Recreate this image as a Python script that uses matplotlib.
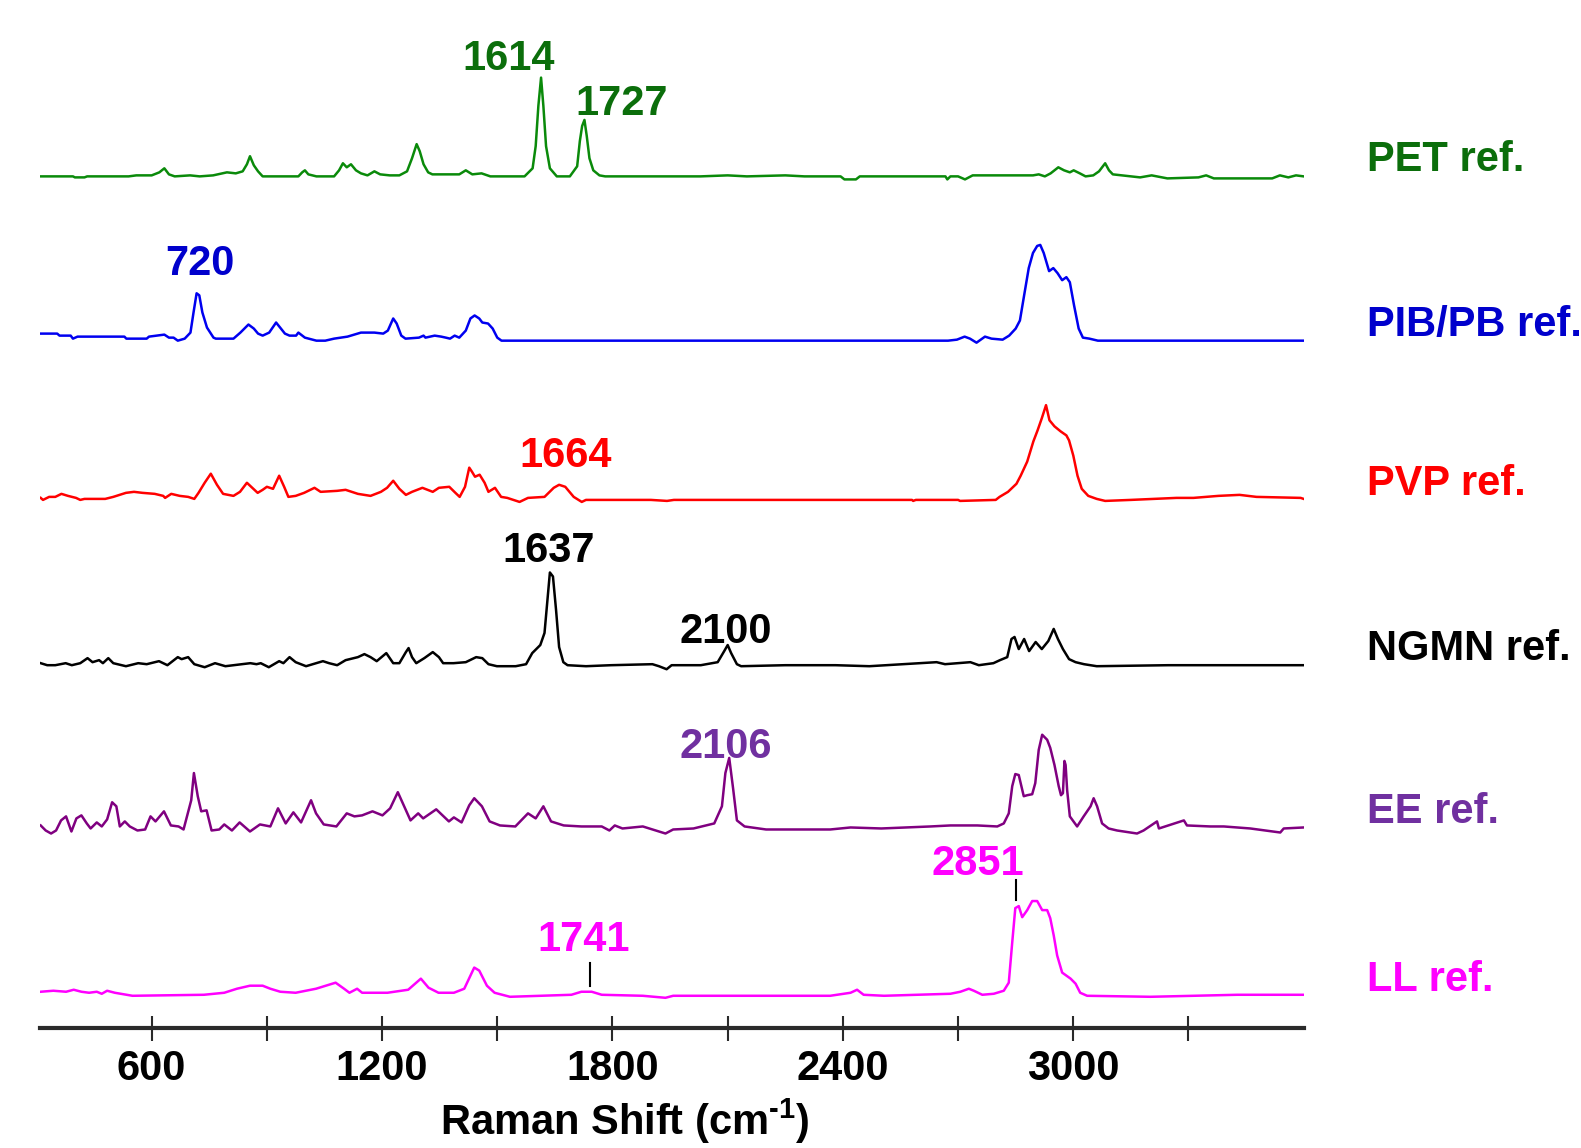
import matplotlib
matplotlib.use("Agg")
import matplotlib.pyplot as plt

plt.rcParams['font.family'] = ['Liberation Sans', 'DejaVu Sans']
plt.rcParams['font.weight'] = 'bold'
plt.rcParams['mathtext.fontset'] = 'custom'
plt.rcParams['mathtext.rm'] = 'Liberation Sans:bold'
plt.rcParams['mathtext.bf'] = 'Liberation Sans:bold'
plt.rcParams['mathtext.default'] = 'rm'

# spectra: Raman shift (cm-1) and relative intensity
pet_x = [311, 395, 400, 425, 432, 540, 560, 600, 620, 633, 645, 660, 700, 725, 760, 796, 819, 837, 848, 856,
         866, 877, 889, 982, 992, 999, 1008, 1029, 1075, 1088, 1098, 1108, 1119, 1132, 1145, 1162, 1180, 1195,
         1220, 1245, 1265, 1278, 1290, 1298, 1308, 1320, 1331, 1366, 1401, 1418, 1435, 1459, 1482, 1571, 1592,
         1600, 1607, 1614, 1620, 1627, 1637, 1655, 1689, 1708, 1715, 1721, 1727, 1733, 1740, 1750, 1766, 1781,
         2029, 2100, 2150, 2250, 2300, 2394, 2404, 2434, 2444, 2667, 2672, 2680, 2700, 2718, 2738, 2895, 2910,
         2926, 2941, 2961, 2976, 2991, 3001, 3017, 3032, 3052, 3067, 3083, 3093, 3103, 3174, 3204, 3245, 3326,
         3346, 3366, 3518, 3538, 3560, 3580, 3600]
pet_y = [0, 0, -1, -1, 0, 0, 1, 1, 4, 8, 2, 0, 1, 0, 1, 4, 3, 5, 12, 20,
         11, 5, 0, 0, 4, 6, 2, 0, 0, 6, 13, 9, 12, 6, 3, 1, 5, 2,
         1, 1, 5, 18, 32, 25, 12, 4, 2, 2, 2, 6, 2, 3, 0, 0, 8,
         30, 70, 98, 70, 30, 8, 0, 0, 10, 35, 50, 56, 40, 18, 6, 1, 0,
         0, 1, 0, 1, 0, 0, -3, -3, 0, 0, -3, 0, 0, -3, 1, 1, 2,
         0, 3, 9, 6, 4, 6, 3, 0, 1, 5, 13, 6, 2, -1, 1, -2, -1,
         1, -2, -2, 1, -1, 1, 0]

pib_x = [310, 354, 360, 389, 395, 407, 529, 534, 587, 593, 633, 645, 657, 668, 686, 701, 709, 717, 724, 732,
         744, 761, 767, 813, 831, 852, 866, 877, 889, 906, 924, 947, 959, 976, 982, 999, 1029, 1052, 1075, 1110,
         1145, 1180, 1203, 1215, 1229, 1238, 1250, 1261, 1296, 1308, 1313, 1337, 1354, 1366, 1377, 1389, 1401,
         1418, 1430, 1441, 1453, 1461, 1476, 1488, 1500, 1511, 2674, 2697, 2717, 2731, 2748, 2770, 2787, 2816,
         2833, 2850, 2861, 2872, 2884, 2895, 2906, 2914, 2923, 2937, 2948, 2959, 2971, 2982, 2991, 3002, 3014,
         3025, 3042, 3064, 3600]
pib_y = [7, 7, 5, 5, 2, 4, 4, 2, 2, 4, 6, 3, 3, 0, 2, 8, 28, 47, 45, 28,
         13, 3, 2, 2, 8, 16, 12, 7, 5, 8, 18, 7, 5, 5, 8, 3, 0, 0, 2, 4,
         8, 8, 7, 10, 22, 17, 5, 2, 3, 5, 3, 5, 4, 3, 2, 5, 3,
         10, 22, 25, 22, 18, 17, 12, 3, 0, 0, 1, 4, 2, -2, 4, 2, 1,
         5, 12, 20, 45, 72, 87, 94, 95, 87, 69, 72, 67, 60, 63, 58, 35, 12,
         3, 2, 0, 0]

pvp_x = [311, 317, 333, 349, 365, 382, 403, 414, 425, 479, 500, 533, 554, 576, 608, 630, 635, 651, 673, 695,
         711, 722, 738, 754, 770, 786, 813, 830, 848, 862, 876, 889, 900, 916, 932, 945, 956, 975, 997, 1024,
         1040, 1083, 1105, 1137, 1170, 1197, 1213, 1229, 1245, 1262, 1278, 1305, 1332, 1348, 1375, 1391, 1402,
         1416, 1427, 1434, 1442, 1454, 1467, 1477, 1494, 1510, 1526, 1558, 1580, 1623, 1647, 1661, 1677, 1699,
         1720, 1731, 1900, 1942, 1960, 2580, 2583, 2590, 2700, 2705, 2798, 2808, 2830, 2852, 2863, 2880, 2896,
         2907, 2918, 2929, 2938, 2951, 2967, 2982, 2989, 3000, 3011, 3022, 3039, 3061, 3083, 3150, 3269, 3313,
         3378, 3433, 3477, 3592, 3600]
pvp_y = [2, 0, 3, 3, 6, 4, 2, 0, 1, 1, 3, 7, 8, 7, 6, 4, 2, 6, 4, 3,
         1, 7, 17, 26, 15, 6, 4, 8, 17, 12, 7, 10, 13, 11, 24, 13, 3, 4, 7, 12,
         8, 9, 10, 6, 4, 8, 12, 19, 11, 5, 8, 12, 8, 12, 13, 7, 3,
         13, 32, 28, 23, 25, 17, 8, 12, 3, 2, -2, 2, 3, 12, 15, 13, 3,
         -2, 0, 0, -1, 0, 0, -1, 0, 0, -1, 0, 3, 8, 16, 24, 38, 58,
         69, 81, 94, 79, 73, 68, 64, 59, 44, 24, 11, 4, 1, -1, 0, 2, 2,
         4, 5, 3, 2, 1]

ngmn_x = [311, 328, 349, 376, 392, 414, 433, 446, 463, 473, 487, 500, 533, 565, 587, 619, 641, 668, 678, 695,
          711, 738, 765, 792, 835, 857, 873, 884, 905, 932, 943, 959, 975, 1002, 1046, 1062, 1083, 1105, 1137,
          1154, 1170, 1186, 1211, 1229, 1245, 1262, 1269, 1278, 1289, 1310, 1332, 1348, 1359, 1386, 1418, 1445,
          1461, 1477, 1499, 1548, 1575, 1591, 1612, 1623, 1630, 1637, 1645, 1653, 1661, 1672, 1683, 1731, 1796,
          1904, 1921, 1941, 1954, 2030, 2074, 2091, 2100, 2109, 2124, 2135, 2250, 2381, 2469, 2644, 2666, 2732,
          2754, 2792, 2809, 2828, 2839, 2847, 2858, 2872, 2885, 2902, 2918, 2935, 2949, 2960, 2973, 2989, 3006,
          3028, 3061, 3247, 3455, 3600]
ngmn_y = [2, 0, 0, 2, 0, 2, 7, 3, 5, 2, 7, 2, -1, 2, 1, 4, 0, 8, 6, 8,
          1, -2, 2, -1, 1, 2, 1, 2, -2, 4, 2, 8, 3, -1, 4, 2, 0, 5, 8,
          11, 8, 4, 12, 2, 2, 13, 17, 8, 2, 7, 13, 8, 2, 2, 3, 8,
          7, 1, -1, -1, 1, 12, 20, 32, 62, 92, 88, 55, 18, 3, 0, -1, 0,
          1, -1, -4, 0, 0, 3, 14, 20, 12, 1, -1, 0, 0, -1, 3, 1, 3,
          0, 2, 5, 8, 26, 28, 16, 26, 14, 23, 16, 24, 36, 26, 16, 6, 3,
          1, -1, 0, 0, 0]

ee_x = [311, 324, 338, 351, 364, 377, 391, 404, 417, 431, 441, 457, 470, 484, 497, 508, 517, 530, 543, 563,
        583, 597, 610, 632, 650, 670, 683, 703, 710, 720, 729, 743, 756, 776, 789, 809, 829, 856, 882, 909,
        929, 949, 969, 989, 1015, 1028, 1048, 1081, 1108, 1128, 1148, 1175, 1201, 1221, 1241, 1274, 1294, 1307,
        1341, 1374, 1387, 1407, 1427, 1440, 1460, 1480, 1507, 1547, 1580, 1600, 1620, 1640, 1673, 1719, 1772,
        1792, 1806, 1826, 1879, 1938, 1958, 2011, 2065, 2085, 2094, 2104, 2114, 2124, 2144, 2200, 2367, 2420,
        2500, 2628, 2680, 2750, 2802, 2819, 2832, 2841, 2849, 2858, 2871, 2880, 2893, 2901, 2910, 2919, 2932,
        2940, 2951, 2962, 2968, 2973, 2977, 2980, 2984, 2991, 3010, 3027, 3045, 3053, 3062, 3075, 3092, 3114,
        3166, 3183, 3218, 3223, 3288, 3296, 3357, 3392, 3461, 3539, 3548, 3600]
ee_y = [3, -2, -5, -2, 8, 12, -3, 10, 13, 5, 0, 6, 2, 9, 26, 22, 2, 7, 2, -2,
        -1, 12, 7, 17, 3, 2, -1, 28, 55, 32, 17, 18, -2, -1, 4, -2, 6, -3, 4, 2,
        20, 5, 16, 6, 28, 15, 4, 2, 15, 12, 13, 17, 13, 20, 36, 8, 15, 10,
        19, 7, 11, 6, 23, 30, 22, 7, 3, 2, 15, 10, 22, 7, 3, 2, 2,
        -2, 3, 0, 2, -5, -1, 0, 5, 22, 55, 70, 40, 8, 2, -1, -1, 1,
        0, 2, 3, 3, 2, 5, 15, 42, 54, 53, 32, 33, 34, 45, 78, 93, 88,
        80, 63, 42, 33, 35, 67, 63, 38, 12, 2, 12, 22, 30, 22, 5, 0, -2,
        -5, -2, 7, 0, 8, 3, 2, 2, 0, -4, 0, 1]

ll_x = [311, 344, 377, 397, 417, 437, 457, 470, 484, 504, 550, 736, 789, 822, 856, 889, 909, 935, 975, 1028,
        1079, 1101, 1115, 1135, 1148, 1214, 1268, 1301, 1321, 1347, 1387, 1414, 1440, 1453, 1473, 1493, 1533,
        1613, 1693, 1719, 1746, 1772, 1879, 1938, 1958, 2367, 2420, 2437, 2454, 2507, 2593, 2680, 2706, 2728,
        2741, 2763, 2793, 2819, 2832, 2841, 2849, 2858, 2867, 2880, 2893, 2906, 2919, 2932, 2940, 2949, 2958,
        2971, 2993, 3006, 3018, 3036, 3201, 3427, 3600]
ll_y = [4, 5, 4, 6, 4, 3, 4, 2, 5, 3, 0, 1, 3, 7, 10, 10, 7, 4, 3, 7,
        13, 7, 3, 7, 3, 3, 6, 17, 8, 3, 3, 7, 28, 25, 10, 3, -1,
        0, 1, 4, 4, 1, 0, -2, 0, 0, 3, 6, 1, 0, 1, 2, 4, 7,
        5, 1, 2, 5, 13, 53, 87, 89, 78, 85, 94, 94, 85, 85, 77, 60, 40,
        23, 17, 12, 3, 0, -1, 1, 1]

names = ['PET ref.', 'PIB/PB ref.', 'PVP ref.', 'NGMN ref.', 'EE ref.', 'LL ref.']
offsets = [845, 682, 524, 360, 198, 32]
line_colors = ['#0a8a0a', '#0000f0', '#ff0000', '#000000', '#800080', '#ff00ff']
text_colors = ['#0b6e0b', '#0000cc', '#ff0000', '#000000', '#7030a0', '#ff00ff']
spectra = [(pet_x, pet_y), (pib_x, pib_y), (pvp_x, pvp_y), (ngmn_x, ngmn_y), (ee_x, ee_y), (ll_x, ll_y)]

# peak annotations: (label, text x, text baseline y, spectrum index)
peak_labels = [('1614', 1530, 951, 0), ('1727', 1825, 906, 0), ('720', 726, 747, 1),
               ('1664', 1677, 557, 2), ('1637', 1634, 462, 3), ('2100', 2096, 382, 3),
               ('2106', 2096, 268, 4), ('2851', 2752, 152, 5), ('1741', 1724, 76, 5)]
markers = [(2851, 127, 147), (1741, 42, 65)]
ticks = [600, 900, 1200, 1500, 1800, 2100, 2400, 2700, 3000, 3300]
tick_labels = ['600', '', '1200', '', '1800', '', '2400', '', '3000', '']

fig = plt.figure(figsize=(15.81, 11.48), dpi=100)
ax = fig.add_axes([0.0255, 0.1045, 0.7991, 0.8955])

for (xs, ys), off, col in zip(spectra, offsets, line_colors):
    ax.plot(xs, [v + off for v in ys], color=col, lw=1.8)

for name, off, col in zip(names, offsets, text_colors):
    ax.text(3766, off + 5, name, color=col, fontsize=30, fontweight='bold',
            ha='left', va='baseline', clip_on=False)

for lab, x, y, idx in peak_labels:
    ax.text(x, y, lab, color=text_colors[idx], fontsize=30, fontweight='bold',
            ha='center', va='baseline')

for x, y0, y1 in markers:
    ax.plot([x, x], [y0, y1], color='black', lw=1.5)

ax.set_xlim(310, 3600)
ax.set_ylim(0, 1020)
for s in ['left', 'top', 'right']:
    ax.spines[s].set_visible(False)
ax.spines['bottom'].set_linewidth(3)
ax.spines['bottom'].set_color('#2a2a2a')
ax.set_yticks([])
ax.set_xticks(ticks)
ax.set_xticklabels(tick_labels)
ax.tick_params(axis='x', direction='inout', length=18, width=1.5, color='#2a2a2a',
               labelsize=30, pad=6)
for t in ax.get_xticklabels():
    t.set_fontweight('bold')

fig.text(0.3954, 0.011, 'Raman Shift (cm$^{\u2010 1}$)', fontsize=30, fontweight='bold',
         ha='center', va='baseline')

fig.savefig('out.png', dpi=100)
